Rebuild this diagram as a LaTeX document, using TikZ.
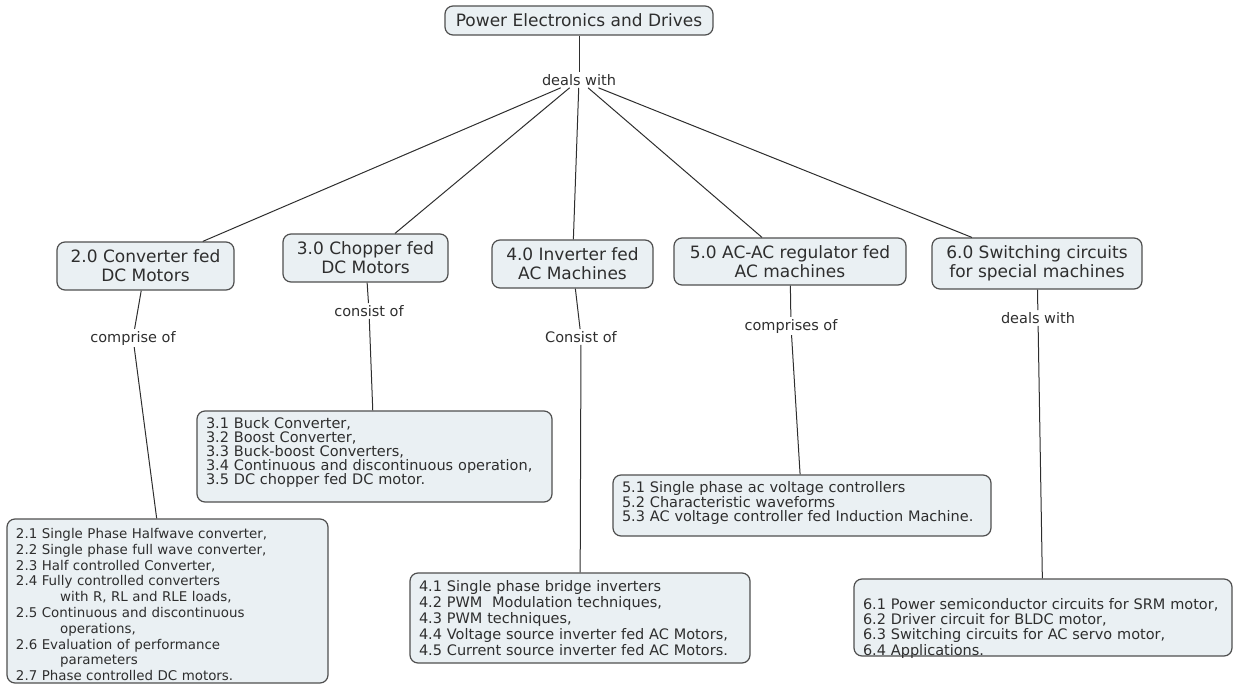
\documentclass[tikz,border=0pt]{standalone}
\usepackage{fontspec}
\setmainfont{DejaVu Sans}

\definecolor{boxfill}{HTML}{EAF0F3}
\definecolor{boxline}{HTML}{4F4F4F}
\definecolor{inkgrey}{HTML}{2E2E2E}

\newcommand{\contline}{\hspace*{3.3em}}
\newcommand{\listfont}[2]{\fontsize{#1}{#2}\selectfont\lineskiplimit=-20pt}

\begin{document}
\begin{tikzpicture}[x=1pt, y=-1pt,
    concept/.style={draw=boxline, line width=1.2pt, fill=boxfill, rounded corners=8pt,
      align=center, inner sep=0pt, text=inkgrey, font=\fontsize{17}{19}\selectfont},
    topics/.style={draw=boxline, line width=1.2pt, fill=boxfill, rounded corners=8pt,
      align=left, inner xsep=9pt, inner ysep=0pt, text=inkgrey},
    linkword/.style={inner sep=2pt, text=inkgrey, font=\fontsize{14.5}{16}\selectfont},
    link/.style={draw=inkgrey, line width=1pt}]
  \useasboundingbox (0,0) rectangle (1235,685);

  % main topic and its units
  \node[concept, minimum width=268, minimum height=29] (root) at (579,20.5) {Power Electronics and Drives};
  \node[linkword] (dealsroot) at (579,80) {deals with};

  \node[concept, minimum width=177, minimum height=48] (conv) at (145.5,266) {2.0 Converter fed\\DC Motors};
  \node[concept, minimum width=165, minimum height=48] (chop) at (365.5,258) {3.0 Chopper fed\\DC Motors};
  \node[concept, minimum width=161, minimum height=48] (inv)  at (572.5,264) {4.0 Inverter fed\\AC Machines};
  \node[concept, minimum width=232, minimum height=47] (acac) at (790,261.5) {5.0 AC-AC regulator fed\\AC machines};
  \node[concept, minimum width=210, minimum height=51] (spec) at (1037,263.5) {6.0 Switching circuits\\for special machines};

  % linking phrases
  \node[linkword] (lconv) at (133,338) {comprise of};
  \node[linkword] (lchop) at (369,311) {consist of};
  \node[linkword] (linv)  at (581,337) {Consist of};
  \node[linkword] (lacac) at (791,326) {comprises of};
  \node[linkword] (lspec) at (1038,318) {deals with};

  % topic lists
  \node[topics, text width=303, minimum height=164, font=\listfont{13.4}{15.8},
        text height=13.7, text depth=138.7] (tconv) at (167.5,601) {%
    2.1 Single Phase Halfwave converter,\\
    2.2 Single phase full wave converter,\\
    2.3 Half controlled Converter,\\
    2.4 Fully controlled converters\\
    \contline with R, RL and RLE loads,\\
    2.5 Continuous and discontinuous\\
    \contline operations,\\
    2.6 Evaluation of performance\\
    \contline parameters\\
    2.7 Phase controlled DC motors.};
  \node[topics, text width=337, minimum height=91, font=\listfont{14.5}{14},
        text height=7.5, text depth=62.9] (tchop) at (374.5,456.5) {%
    3.1 Buck Converter,\\
    3.2 Boost Converter,\\
    3.3 Buck-boost Converters,\\
    3.4 Continuous and discontinuous operation,\\
    3.5 DC chopper fed DC motor.};
  \node[topics, text width=322, minimum height=90, font=\listfont{14.5}{15.8}] (tinv) at (580,618) {%
    4.1 Single phase bridge inverters\\
    4.2 PWM~ Modulation techniques,\\
    4.3 PWM techniques,\\
    4.4 Voltage source inverter fed AC Motors,\\
    4.5 Current source inverter fed AC Motors.};
  \node[topics, text width=360, minimum height=61, font=\listfont{14.5}{14.5},
        text height=9, text depth=34.4] (tacac) at (802,505.5) {%
    5.1 Single phase ac voltage controllers\\
    5.2 Characteristic waveforms\\
    5.3 AC voltage controller fed Induction Machine.};
  \node[topics, text width=360, minimum height=77, font=\listfont{14.5}{15.2},
        text height=22, text depth=38] (tspec) at (1043,617.5) {%
    6.1 Power semiconductor circuits for SRM motor,\\
    6.2 Driver circuit for BLDC motor,\\
    6.3 Switching circuits for AC servo motor,\\
    6.4 Applications.};

  % connectors
  \draw[link] (root) -- (dealsroot);
  \foreach \unit in {conv,chop,inv,acac,spec}
    \draw[link] (dealsroot) -- (\unit);
  \foreach \unit in {conv,chop,inv,acac,spec} {
    \draw[link] (\unit) -- (l\unit);
    \draw[link] (l\unit) -- (t\unit);
  }
\end{tikzpicture}
\end{document}
